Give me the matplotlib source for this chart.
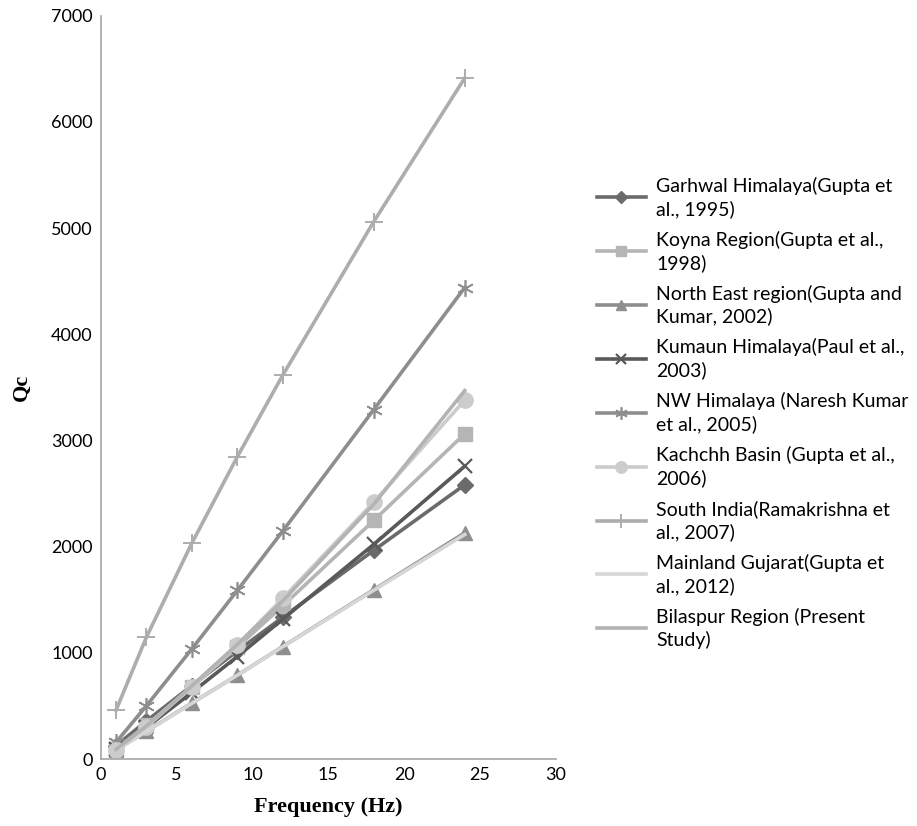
import numpy as np
import matplotlib.pyplot as plt

freq = [1, 3, 6, 9, 12, 18, 24]

garhwal = [126, 358, 692, 1018, 1336, 1966, 2583]
koyna = [96, 318, 678, 1054, 1443, 2247, 3063]
north_east = [86, 262, 527, 790, 1060, 1595, 2130]
kumaun = [92, 298, 627, 966, 1318, 2022, 2758]
nw_himalaya = [158, 501, 1037, 1588, 2148, 3291, 4440]
kachchh = [85, 302, 681, 1074, 1514, 2420, 3380]
south_india = [460, 1147, 2033, 2847, 3616, 5061, 6413]
gujarat = [86, 260, 525, 790, 1058, 1590, 2115]
bilaspur = [90, 310, 690, 1080, 1490, 2400, 3470]

labels = ['Garhwal Himalaya(Gupta et\nal., 1995)',
          'Koyna Region(Gupta et al.,\n1998)',
          'North East region(Gupta and\nKumar, 2002)',
          'Kumaun Himalaya(Paul et al.,\n2003)',
          'NW Himalaya (Naresh Kumar\net al., 2005)',
          'Kachchh Basin (Gupta et al.,\n2006)',
          'South India(Ramakrishna et\nal., 2007)',
          'Mainland Gujarat(Gupta et\nal., 2012)',
          'Bilaspur Region (Present\nStudy)']

plt.rcParams['font.family'] = ['Lato', 'DejaVu Sans']

fig = plt.figure(figsize=(9.17, 8.26), dpi=100)
ax = fig.add_axes([0.110, 0.081, 0.496, 0.900])

lw = 2.6
ax.plot(freq, garhwal, color='#6b6b6b', lw=lw, marker='D', ms=8, label=labels[0])
ax.plot(freq, koyna, color='#b5b5b5', lw=lw, marker='s', ms=10, label=labels[1])
ax.plot(freq, north_east, color='#8e8e8e', lw=lw, marker='^', ms=10, label=labels[2])
ax.plot(freq, kumaun, color='#595959', lw=lw, marker='x', ms=10, mew=1.6, label=labels[3])
ax.plot(freq, nw_himalaya, color='#8e8e8e', lw=lw, marker=(6, 2, 0), ms=12, mew=1.2, label=labels[4])
ax.plot(freq, kachchh, color='#cccccc', lw=lw, marker='o', ms=11, label=labels[5])
ax.plot(freq, south_india, color='#adadad', lw=lw, marker='+', ms=13, mew=1.4, label=labels[6])
ax.plot(freq, gujarat, color='#d6d6d6', lw=lw, label=labels[7])
ax.plot(freq, bilaspur, color='#b3b3b3', lw=lw, label=labels[8])

ax.set_xlim(0, 30)
ax.set_ylim(0, 7000)
ax.set_xticks(range(0, 31, 5))
ax.set_yticks(range(0, 7001, 1000))
ax.tick_params(length=0, labelsize=13, pad=6)
for s in ['top', 'right']:
    ax.spines[s].set_visible(False)
for s in ['left', 'bottom']:
    ax.spines[s].set_color('#a6a6a6')
    ax.spines[s].set_linewidth(1.2)

ax.set_xlabel('Frequency (Hz)', family='Liberation Serif', weight='bold', fontsize=16, labelpad=10)
ax.set_ylabel('Qc', family='Liberation Serif', weight='bold', fontsize=16, labelpad=14)

leg = fig.legend(loc='upper left', bbox_to_anchor=(0.651, 0.786), frameon=False,
                 fontsize=14, handlelength=2.5, handletextpad=0.55, labelspacing=0.66,
                 borderpad=0, borderaxespad=0, markerscale=0.75)
for t in leg.get_texts():
    t.set_linespacing(1.34)

plt.savefig('out.png', dpi=100)
